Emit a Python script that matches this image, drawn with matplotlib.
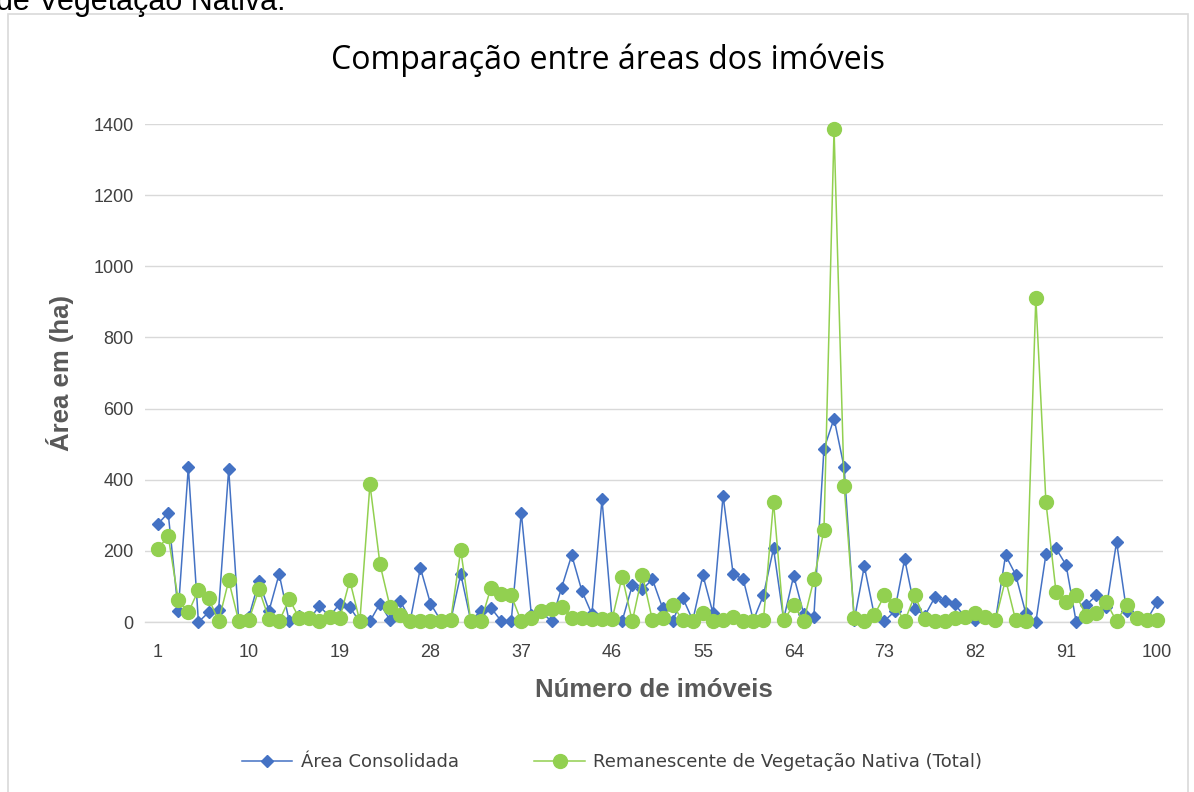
import numpy as np
import matplotlib
matplotlib.use('Agg')
import matplotlib.pyplot as plt
from matplotlib.patches import Rectangle

# Data
imoveis = list(range(1, 101))

area_consolidada = [
    276, 307, 30, 436, 0, 27, 33, 430, 0, 15,
    115, 32, 135, 2, 18, 8, 45, 15, 52, 42,
    0, 2, 52, 5, 60, 5, 152, 52, 5, 3,
    135, 3, 32, 40, 3, 2, 307, 20, 28, 2,
    97, 188, 88, 22, 345, 8, 3, 103, 92, 120,
    40, 3, 68, 5, 132, 25, 355, 135, 120, 5,
    75, 207, 8, 130, 22, 15, 487, 572, 435, 5,
    157, 18, 3, 30, 177, 38, 18, 70, 58, 50,
    12, 5, 12, 5, 188, 133, 25, 0, 190, 207,
    160, 0, 48, 75, 42, 225, 30, 15, 5, 55,
]

remanescente = [
    205, 243, 62, 27, 90, 68, 2, 117, 2, 5,
    92, 8, 2, 65, 10, 10, 2, 15, 10, 117,
    2, 387, 162, 42, 20, 2, 2, 2, 2, 5,
    202, 2, 2, 97, 78, 75, 2, 12, 30, 38,
    42, 12, 12, 8, 8, 8, 128, 2, 133, 5,
    10, 48, 5, 2, 25, 2, 5, 15, 2, 2,
    5, 338, 5, 47, 2, 120, 258, 1385, 383, 12,
    2, 20, 75, 48, 2, 75, 8, 2, 2, 10,
    15, 25, 15, 5, 120, 5, 2, 912, 337, 85,
    55, 75, 18, 25, 55, 2, 48, 10, 5, 5,
]

x_ticks = [1, 10, 19, 28, 37, 46, 55, 64, 73, 82, 91, 100]
y_ticks = [0, 200, 400, 600, 800, 1000, 1200, 1400]

blue = '#4472C4'
green = '#92D050'
grid_gray = '#D9D9D9'
text_gray = '#595959'

fig = plt.figure(figsize=(11.94, 7.92), dpi=100)
ax = fig.add_axes([0.1214, 0.2146, 0.8526, 0.6288])

ax.plot(imoveis, area_consolidada, color=blue, lw=1.1, marker='D', markersize=6.5,
        label='Área Consolidada', clip_on=False, zorder=3)
ax.plot(imoveis, remanescente, color=green, lw=1.1, marker='o', markersize=10,
        label='Remanescente de Vegetação Nativa (Total)', clip_on=False, zorder=4)

ax.set_xlim(-0.3, 100.6)
ax.set_ylim(0, 1400)
ax.set_xticks(x_ticks)
ax.set_yticks(y_ticks)
ax.tick_params(length=0, labelsize=13, labelcolor='#404040')
ax.tick_params(axis='x', pad=16)
ax.tick_params(axis='y', pad=8)
for lab in ax.get_xticklabels() + ax.get_yticklabels():
    lab.set_fontfamily('Liberation Sans')

ax.grid(axis='y', color=grid_gray, lw=1)
ax.set_axisbelow(True)
for s in ['top', 'right', 'left']:
    ax.spines[s].set_visible(False)
ax.spines['bottom'].set_color(grid_gray)
ax.spines['bottom'].set_linewidth(1)

fig.text(608 / 1194, 1 - 60 / 792, 'Comparação entre áreas dos imóveis', fontsize=23,
         family='Open Sans', color='#000000', ha='center', va='center')
ax.set_xlabel('Número de imóveis', fontsize=18.5, fontweight='bold', family='Liberation Sans',
              color=text_gray, labelpad=12)
ax.set_ylabel('Área em (ha)', fontsize=18.5, fontweight='bold', family='Liberation Sans',
              color=text_gray, labelpad=14)

leg = fig.legend(loc='center', bbox_to_anchor=(612 / 1194, 1 - 762 / 792), ncol=2,
                 frameon=False, prop={'family': 'DejaVu Sans', 'size': 13},
                 handlelength=2.8, handletextpad=0.45, columnspacing=4.2)
for t in leg.get_texts():
    t.set_color('#404040')

# chart border and cropped text from the page above
fig.patches.append(Rectangle((8 / 1194, -0.01), 1180 / 1194, 1 - 14 / 792 + 0.01,
                             transform=fig.transFigure, fill=False,
                             edgecolor='#D9D9D9', lw=1.2))
fig.text(-0.003, 1 - 10 / 792, 'de Vegetação Nativa.', fontsize=22, family='Liberation Sans',
         va='baseline', ha='left', color='#000000')

fig.savefig('out.png', dpi=100)
